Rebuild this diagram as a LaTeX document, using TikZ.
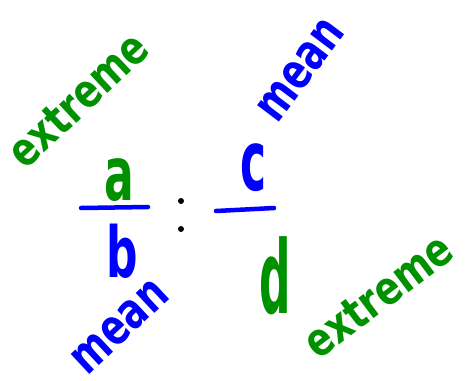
\documentclass[tikz,border=0pt]{standalone}
\usepackage{fontspec}
\setmainfont{DejaVu Sans}
\definecolor{hgreen}{RGB}{0,145,0}
\definecolor{hblue}{RGB}{0,0,255}
\begin{document}
\begin{tikzpicture}[x=1pt,y=-1pt,
  word/.style={inner sep=0pt, font=\fontsize{37}{37}\selectfont\bfseries},
  letter/.style={inner sep=0pt, font=\fontsize{44}{44}\selectfont\bfseries},
  bar/.style={hblue, line width=4.5pt, line cap=round},
  dot/.style={circle, fill=black, inner sep=0pt, minimum size=6pt}]
\useasboundingbox (0,0) rectangle (467,381);
% left fraction
\node[letter, hgreen, yscale=1.7] (a) at (119,180) {a};
\coordinate (b1l) at (81,208);
\coordinate (b1r) at (148,207);
\draw[bar] (b1l) -- (b1r);
\node[letter, hblue, yscale=1.6] (b) at (122,251) {b};
% colon
\node[dot] (d1) at (181,201) {};
\node[dot] (d2) at (181,229) {};
% right fraction
\node[letter, hblue, yscale=1.9] (c) at (254,168) {c};
\coordinate (b2l) at (216,211);
\coordinate (b2r) at (274,208);
\draw[bar] (b2l) -- (b2r);
\node[letter, hgreen, yscale=2.3] (d) at (275,276) {d};
% labels
\node[word, hgreen, rotate=43, yscale=1.25] (e1) at (78,100) {extreme};
\node[word, hblue, rotate=43, yscale=1.35] (m1) at (120,327) {mean};
\node[word, hblue, rotate=53, yscale=1.35] (m2) at (301,70) {mean};
\node[word, hgreen, rotate=37, yscale=1.25] (e2) at (378,296) {extreme};
\end{tikzpicture}
\end{document}
